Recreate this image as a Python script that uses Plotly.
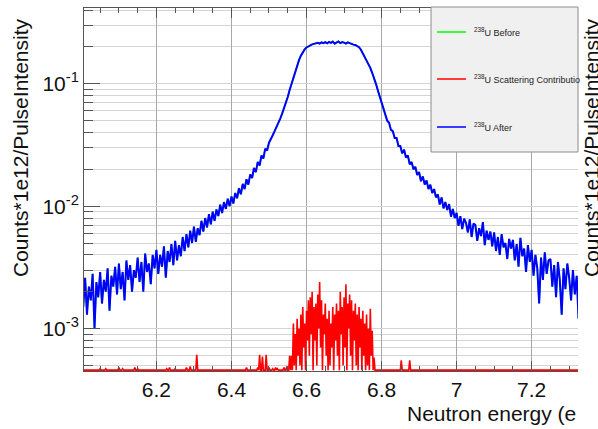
import numpy as np
import plotly.graph_objects as go

# ---------------- data ----------------
E_START = 6.000          # eV, first bin centre of the 238U spectra
E_STEP = 0.005           # eV, bin width

blue_after = [
    2.3e-3, 1.5e-3, 2.6e-3, 1.3e-3, 2.2e-3, 1.7e-3, 2.8e-3, 1.0e-3, 2.4e-3, 1.8e-3,
    2.9e-3, 1.6e-3, 2.5e-3, 2.0e-3, 3.1e-3, 1.4e-3, 2.7e-3, 2.2e-3, 3.2e-3, 1.9e-3,
    3.4e-3, 2.1e-3, 2.9e-3, 1.7e-3, 3.6e-3, 2.5e-3, 3.3e-3, 2.0e-3, 3.0e-3, 2.6e-3,
    3.8e-3, 2.4e-3, 3.5e-3, 2.0e-3, 4.1e-3, 2.9e-3, 3.4e-3, 2.3e-3, 4.0e-3, 3.1e-3,
    4.4e-3, 2.8e-3, 4.0e-3, 3.2e-3, 4.7e-3, 2.6e-3, 4.3e-3, 3.5e-3, 4.9e-3, 3.3e-3,
    5.2e-3, 3.6e-3, 4.8e-3, 3.9e-3, 5.6e-3, 4.3e-3, 5.9e-3, 4.6e-3, 6.3e-3, 5.0e-3,
    6.8e-3, 5.1e-3, 6.6e-3, 5.8e-3, 7.6e-3, 6.2e-3, 8.0e-3, 6.7e-3, 8.6e-3, 7.1e-3,
    9.0e-3, 7.6e-3, 9.4e-3, 8.3e-3, 1.03e-2, 8.8e-3, 1.08e-2, 9.5e-3, 1.15e-2, 1.0e-2,
    1.2e-2, 1.05e-2, 1.28e-2, 1.16e-2, 1.40e-2, 1.25e-2, 1.52e-2, 1.38e-2, 1.66e-2, 1.50e-2,
    1.82e-2, 1.70e-2, 2.05e-2, 1.90e-2, 2.30e-2, 2.15e-2, 2.60e-2, 2.45e-2, 2.95e-2, 2.85e-2,
    3.3e-2, 3.5e-2, 3.8e-2, 4.1e-2, 4.4e-2, 4.8e-2, 5.2e-2, 5.7e-2, 6.3e-2, 7.0e-2,
    7.8e-2, 8.9e-2, 0.100, 0.113, 0.126, 0.141, 0.156, 0.170, 0.182, 0.191,
    0.198, 0.203, 0.207, 0.210, 0.212, 0.214, 0.216, 0.213, 0.218, 0.215,
    0.219, 0.214, 0.220, 0.216, 0.221, 0.213, 0.218, 0.222, 0.215, 0.219,
    0.217, 0.213, 0.218, 0.214, 0.212, 0.209, 0.208, 0.204, 0.199, 0.190,
    0.178, 0.167, 0.156, 0.146, 0.135, 0.123, 0.112, 0.100, 0.0885, 0.079,
    0.071, 0.062, 0.058, 0.050, 0.048, 0.042, 0.041, 0.036, 0.036, 0.031,
    0.031, 0.027, 0.029, 0.025, 0.026, 0.022, 0.023, 0.020, 0.021, 0.018,
    0.019, 0.016, 0.0175, 0.0150, 0.0162, 0.0138, 0.0150, 0.0128, 0.0138, 0.0118,
    0.0125, 0.0103, 0.0118, 0.0096, 0.0108, 0.0093, 0.0104, 0.0082, 0.0095, 0.0080,
    8.8e-3, 6.9e-3, 8.3e-3, 6.5e-3, 7.9e-3, 7.3e-3, 6.1e-3, 7.8e-3, 5.6e-3, 7.2e-3,
    7.0e-3, 5.2e-3, 6.6e-3, 5.7e-3, 7.4e-3, 4.8e-3, 6.3e-3, 5.3e-3, 6.2e-3, 4.7e-3,
    6.1e-3, 4.3e-3, 5.6e-3, 4.0e-3, 5.9e-3, 4.6e-3, 5.0e-3, 3.7e-3, 5.4e-3, 4.5e-3,
    5.3e-3, 3.6e-3, 4.9e-3, 3.2e-3, 5.5e-3, 3.9e-3, 4.5e-3, 2.9e-3, 4.8e-3, 3.5e-3,
    4.4e-3, 2.7e-3, 4.0e-3, 3.1e-3, 1.6e-3, 3.8e-3, 2.5e-3, 4.2e-3, 2.8e-3, 3.6e-3,
    3.7e-3, 2.2e-3, 3.3e-3, 1.8e-3, 3.5e-3, 2.5e-3, 1.3e-3, 3.1e-3, 2.1e-3, 3.4e-3,
    2.6e-3, 1.7e-3, 3.0e-3, 1.9e-3, 2.7e-3, 1.2e-3,
]
# "Before" is indistinguishable from "After" at this resolution
green_before = list(blue_after)

# scattering contribution: finer binning, zero almost everywhere
RED_START = 6.000
RED_STEP = 0.0025
RED_N = 531
red_core_start = 6.560
red_core = [
    6e-4, 0, 1.1e-3, 5e-4, 9e-4, 0, 1.2e-3, 6e-4, 1.0e-3, 5e-4,
    1.3e-3, 0, 1.5e-3, 7e-4, 1.1e-3, 0, 1.4e-3, 8e-4, 1.7e-3, 6e-4,
    1.8e-3, 9e-4, 2.0e-3, 0, 1.5e-3, 8e-4, 1.6e-3, 5e-4, 1.9e-3, 1.0e-3,
    2.4e-3, 7e-4, 1.7e-3, 0, 1.3e-3, 9e-4, 1.6e-3, 6e-4, 1.2e-3, 0,
    1.4e-3, 5e-4, 1.1e-3, 7e-4, 1.5e-3, 0, 1.3e-3, 8e-4, 1.6e-3, 6e-4,
    1.4e-3, 0, 2.0e-3, 9e-4, 1.5e-3, 5e-4, 1.8e-3, 7e-4, 2.3e-3, 0,
    1.6e-3, 1.0e-3, 1.9e-3, 6e-4, 1.7e-3, 0, 1.4e-3, 8e-4, 1.6e-3, 5e-4,
    1.3e-3, 0, 1.5e-3, 7e-4, 1.2e-3, 0, 1.4e-3, 6e-4, 1.1e-3, 0,
    1.3e-3, 5e-4, 1.0e-3, 0, 1.45e-3, 6e-4, 9.6e-4, 0, 5.8e-4, 0, 0,
]
red_spike_energy = [6.050, 6.065, 6.100, 6.110, 6.1425, 6.150, 6.2275, 6.235,
                    6.250, 6.280, 6.290, 6.3075, 6.440, 6.470, 6.4750, 6.4825,
                    6.4925, 6.500, 6.510, 6.5175, 6.5225, 6.540, 6.5475, 6.5550,
                    6.8525, 6.875]
red_spike_value = [4.7e-4, 4.7e-4, 4.8e-4, 4.7e-4, 4.8e-4, 4.7e-4, 4.7e-4, 4.8e-4,
                   4.7e-4, 4.8e-4, 4.9e-4, 6.1e-4, 4.8e-4, 4.8e-4, 6.1e-4, 5.9e-4,
                   6.1e-4, 4.8e-4, 4.7e-4, 4.8e-4, 4.7e-4, 4.8e-4, 4.9e-4, 6.0e-4,
                   5.5e-4, 5.5e-4]

x_tick_vals = [6.2, 6.4, 6.6, 6.8, 7.0, 7.2]
x_tick_text = ["6.2", "6.4", "6.6", "6.8", "7", "7.2"]
y_tick_vals = [1e-3, 1e-2, 1e-1]
y_tick_text = ["10<sup>-3</sup>", "10<sup>-2</sup>", "10<sup>-1</sup>"]

series_names = ["<sup>238</sup>U Before", "<sup>238</sup>U Scattering Contributio",
                "<sup>238</sup>U After"]
series_colors = ["#00ff00", "#ff0000", "#0000ff"]

X_RANGE = [6.007, 7.3235]
Y_LOG_RANGE = [-3.347, -0.3805]

# ---------------- build arrays ----------------
energy = E_START + E_STEP * np.arange(len(blue_after))

red_energy = RED_START + RED_STEP * np.arange(RED_N)
red = np.zeros(RED_N)
for e, v in zip(red_spike_energy, red_spike_value):
    red[int(round((e - RED_START) / RED_STEP))] = v
i0 = int(round((red_core_start - RED_START) / RED_STEP))
red[i0:i0 + len(red_core)] = red_core
# ROOT draws empty bins on the lower frame edge of a log axis
floor = 10 ** (Y_LOG_RANGE[0] + 0.007)
red_plot = np.where(red > 0, red, floor)

fig = go.Figure()
fig.add_trace(go.Scatter(x=energy, y=green_before, mode="lines", name=series_names[0],
                         line=dict(color=series_colors[0], width=1.5), showlegend=False))
fig.add_trace(go.Scatter(x=red_energy, y=red_plot, mode="lines", name=series_names[1],
                         line=dict(color=series_colors[1], width=1.6), showlegend=False))
fig.add_trace(go.Scatter(x=energy, y=blue_after, mode="lines", name=series_names[2],
                         line=dict(color=series_colors[2], width=2), showlegend=False))

FONT = "Liberation Sans, Arial, Helvetica, sans-serif"
L, R, T, B = 84, 20, 8, 58
W, H = 598, 429
PW, PH = W - L - R, H - T - B


def px(xp):
    return (xp - L) / PW


def py(yp):
    return 1 - (yp - T) / PH


y_minor = [m * 10.0 ** d for d in (-4, -3, -2, -1) for m in range(2, 10)]
y_minor = [v for v in y_minor if 10 ** Y_LOG_RANGE[0] <= v <= 10 ** Y_LOG_RANGE[1]]
x_minor = [round(6.0 + 0.05 * k, 3) for k in range(0, 28)]

fig.update_layout(
    width=W, height=H,
    margin=dict(l=L, r=R, t=T, b=B),
    paper_bgcolor="white", plot_bgcolor="white",
    font=dict(family=FONT, size=21, color="#111"),
    showlegend=False,
    xaxis=dict(
        range=X_RANGE, tickvals=x_tick_vals, ticktext=x_tick_text,
        ticks="inside", ticklen=10, tickwidth=1, tickcolor="#555",
        showline=True, linecolor="#555", linewidth=1, mirror="ticks",
        showgrid=True, gridcolor="#a8a8a8", gridwidth=1, zeroline=False,
        tickfont=dict(size=21, color="#111"),
        minor=dict(tickvals=x_minor, ticks="inside", ticklen=5, tickcolor="#555",
                   showgrid=False),
    ),
    yaxis=dict(
        type="log", range=Y_LOG_RANGE, tickvals=y_tick_vals, ticktext=y_tick_text,
        ticks="inside", ticklen=16, tickwidth=1, tickcolor="#555",
        showline=True, linecolor="#555", linewidth=1, mirror=False,
        showgrid=True, gridcolor="#d4d4d4", gridwidth=1, zeroline=False,
        tickfont=dict(size=21, color="#111"),
        minor=dict(tickvals=y_minor, ticks="inside", ticklen=9, tickcolor="#555",
                   showgrid=True, gridcolor="#d4d4d4", gridwidth=1),
    ),
)

shapes = [dict(type="rect", xref="paper", yref="paper",
               x0=px(431), x1=1.0, y0=py(152), y1=py(7),
               fillcolor="#f0f0f0", line=dict(color="#8c8c8c", width=1), layer="above")]
annotations = []
for k, yp in enumerate([32, 79, 127]):
    shapes.append(dict(type="line", xref="paper", yref="paper",
                       x0=px(437), x1=px(466), y0=py(yp), y1=py(yp),
                       line=dict(color=series_colors[k], width=1.5), layer="above"))
    annotations.append(dict(xref="paper", yref="paper", x=px(472), y=py(yp),
                            xanchor="left", yanchor="middle", showarrow=False,
                            text=series_names[k], font=dict(size=9, color="#222", family=FONT)))

annotations += [
    dict(xref="paper", yref="paper", x=px(20), y=py(148), textangle=-90,
         xanchor="center", yanchor="middle", showarrow=False,
         text="Counts*1e12/PulseIntensity", font=dict(size=21, color="#111", family=FONT)),
    dict(xref="paper", yref="paper", x=px(591), y=py(148), textangle=-90,
         xanchor="center", yanchor="middle", showarrow=False,
         text="Counts*1e12/PulseIntensity", font=dict(size=21, color="#111", family=FONT)),
    dict(xref="paper", yref="paper", x=px(578), y=py(413),
         xanchor="right", yanchor="middle", showarrow=False,
         text="Neutron energy (e", font=dict(size=21, color="#111", family=FONT)),
]
fig.update_layout(shapes=shapes, annotations=annotations)

fig.write_html("out.html")
